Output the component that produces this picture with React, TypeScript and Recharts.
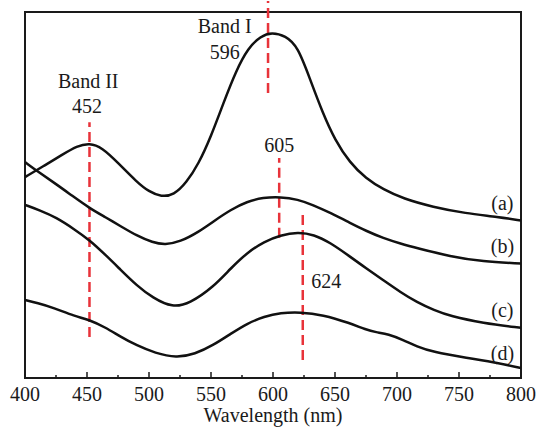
import React from 'react';
import { LineChart, Line, XAxis, YAxis, ReferenceLine, ReferenceArea, ReferenceDot } from 'recharts';

// absorbance (a.u., 0-100 scale)
const wlA = [400, 415, 430, 442, 452, 462, 475, 490, 500, 510, 520, 530, 540, 550, 560, 570, 580, 590, 599, 610, 620, 630, 640, 650, 662, 675, 689, 705, 729, 755, 782, 800];
const absA = [54.9, 57.9, 61.0, 63.4, 64.2, 63.0, 58.8, 53.6, 50.9, 49.5, 50.0, 53.3, 58.5, 66.0, 75.1, 83.8, 90.2, 93.4, 94.5, 93.5, 90.6, 81.5, 72.5, 65.0, 58.8, 54.5, 51.5, 49.0, 46.7, 45.0, 44.0, 43.0];

const wlB = [400, 412, 425, 438, 452, 465, 477, 490, 503, 513, 525, 540, 552, 566, 579, 592, 606, 620, 632, 647, 662, 675, 689, 703, 716, 743, 769, 800];
const absB = [59.0, 56.0, 53.0, 49.8, 46.4, 43.9, 41.5, 38.9, 37.0, 36.4, 37.2, 39.9, 42.8, 46.0, 48.2, 49.3, 49.5, 48.8, 47.3, 45.0, 42.4, 40.2, 38.2, 36.7, 35.5, 33.2, 31.8, 31.3];

const wlC = [400, 412, 425, 440, 452, 465, 477, 490, 503, 519, 533, 552, 566, 579, 593, 606, 620, 633, 646, 662, 675, 689, 703, 716, 730, 743, 769, 800];
const absC = [47.3, 45.8, 43.9, 40.6, 37.7, 33.6, 29.6, 25.3, 21.9, 19.2, 20.4, 24.9, 30.0, 34.2, 37.3, 39.0, 39.9, 39.2, 37.0, 33.2, 30.0, 26.7, 23.4, 20.7, 18.5, 16.9, 15.0, 13.7];

const wlD = [400, 410, 423, 440, 452, 465, 477, 490, 505, 522, 537, 552, 566, 579, 593, 606, 622, 640, 662, 675, 683, 693, 705, 716, 729, 756, 782, 800];
const absD = [21.3, 20.5, 19.2, 16.9, 15.9, 13.8, 11.3, 8.9, 6.8, 5.5, 6.5, 9.0, 12.1, 14.9, 16.8, 17.8, 18.0, 17.3, 15.0, 13.2, 12.5, 12.0, 10.4, 8.6, 7.1, 5.5, 4.1, 2.7];

const xTicks = [400, 425, 450, 475, 500, 525, 550, 575, 600, 625, 650, 675, 700, 725, 750, 775, 800];

// band positions (nm) and the vertical span of each dashed marker
const bandPeaks = [452, 596, 605, 624];
const bandFrom = [11.2, 77.9, 38.3, 4.9];
const bandTo = [69.9, 103, 60.1, 45.1];

// text annotations: [wavelength, value, text]
const notes: [number, number, string][] = [
  [451, 81.1, 'Band II'],
  [450, 74.3, '452'],
  [561, 96.2, 'Band I'],
  [561, 89.1, '596'],
  [605, 63.7, '605'],
  [643, 26.5, '624'],
  [785, 47.8, '(a)'],
  [785, 36.1, '(b)'],
  [785, 18.6, '(c)'],
  [785, 6.8, '(d)'],
];

const toRows = (wl: number[], v: number[]) => wl.map((w, i) => ({ wl: w, abs: v[i] }));
const curves = [toRows(wlA, absA), toRows(wlB, absB), toRows(wlC, absC), toRows(wlD, absD)];

const FONT = '"Liberation Serif", "Times New Roman", serif';
const INK = '#1a1a1a';

const AxisTick = (props: any) => {
  const { x, y, payload } = props;
  const major = payload.value % 50 === 0;
  return (
    <g>
      <line x1={x} y1={y} x2={x} y2={y - (major ? 6 : 3)} stroke={INK} strokeWidth={1.5} />
      {major && (
        <text x={x} y={y + 23} textAnchor="middle" fontSize={20} fontFamily={FONT} fill={INK}>
          {payload.value}
        </text>
      )}
    </g>
  );
};

export default function App() {
  return (
    <div style={{ position: 'absolute', left: 0, top: 0, background: '#fff' }}>
      <LineChart width={536} height={427} margin={{ top: 12, right: 15, left: 25, bottom: 0 }} style={{ fontFamily: FONT }}>
        <XAxis
          dataKey="wl"
          type="number"
          domain={[400, 800]}
          ticks={xTicks}
          interval={0}
          allowDataOverflow
          height={49}
          tickSize={0}
          tickMargin={0}
          tickLine={false}
          tick={<AxisTick />}
          axisLine={{ stroke: INK, strokeWidth: 2 }}
          label={{ value: 'Wavelength (nm)', position: 'insideBottom', offset: 5, fontSize: 20, fill: INK, fontFamily: FONT }}
        />
        <YAxis type="number" domain={[0, 100]} hide allowDataOverflow />
        <ReferenceArea x1={400} x2={800} y1={0} y2={100} fill="none" stroke={INK} strokeWidth={2} ifOverflow="visible" />
        {bandPeaks.map((p, i) => (
          <ReferenceLine
            key={p}
            segment={[{ x: p, y: bandFrom[i] }, { x: p, y: bandTo[i] }]}
            stroke="#e8333a"
            strokeWidth={2.5}
            strokeDasharray="10 5"
            ifOverflow="visible"
          />
        ))}
        {curves.map((rows, i) => (
          <Line
            key={i}
            data={rows}
            dataKey="abs"
            type="basis"
            stroke="#111"
            strokeWidth={2.5}
            dot={false}
            isAnimationActive={false}
          />
        ))}
        {notes.map(([x, y, t]) => (
          <ReferenceDot
            key={t}
            x={x}
            y={y}
            r={0}
            fill="none"
            stroke="none"
            ifOverflow="visible"
            label={{ value: t, position: 'center', fontSize: 20, fill: INK, fontFamily: FONT }}
          />
        ))}
      </LineChart>
    </div>
  );
}
